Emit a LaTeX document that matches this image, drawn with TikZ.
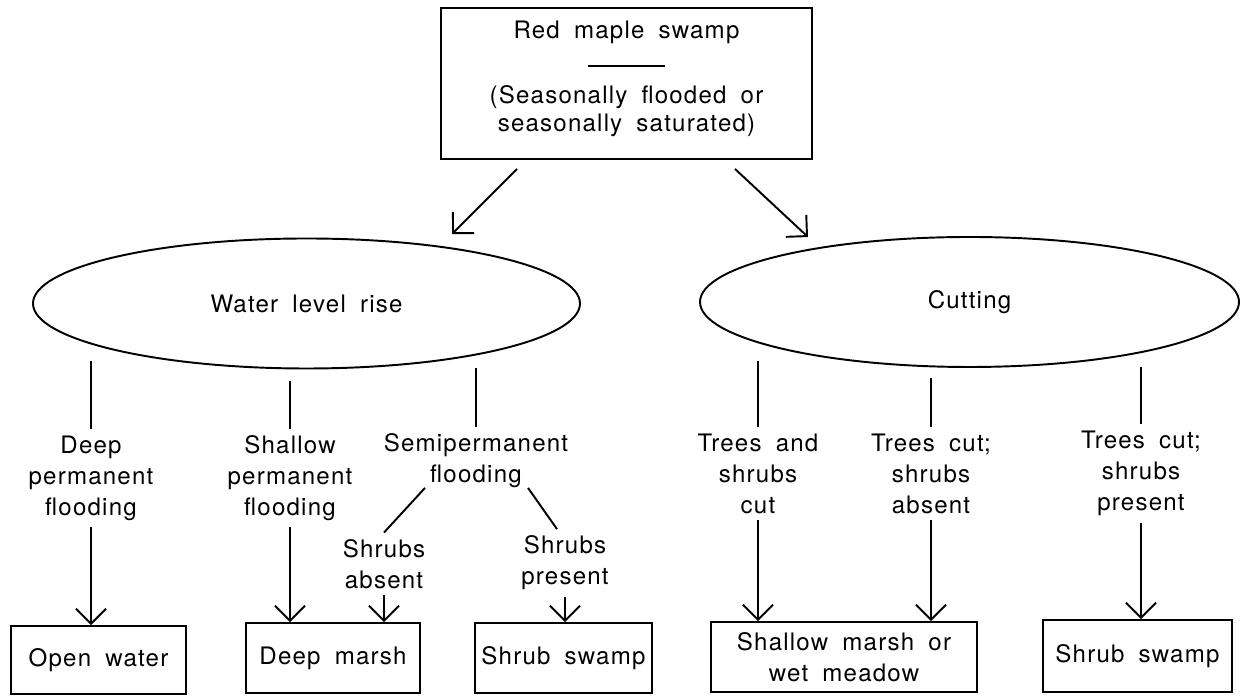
\documentclass[tikz,border=0pt]{standalone}
\usepackage{fontspec}
\setmainfont{TeX Gyre Heros}[LetterSpace=5,WordSpace=1.8]
\usetikzlibrary{shapes.geometric, arrows.meta, calc}

\begin{document}
\begin{tikzpicture}[font=\fontsize{13.7}{17.6}\selectfont, line width=1.1pt,
	box/.style={draw, align=center, inner sep=0pt},
	oval/.style={draw, ellipse, inner sep=0pt},
	lbl/.style={align=center},
	arr/.style={-{Straight Barb[length=0.3cm,width=0.6cm]}}]
			\useasboundingbox (0,0) rectangle (24.86,13.92);
			% starting wetland
			\node[box, minimum width=7.42cm, minimum height=3.02cm, font=\fontsize{13.7}{15.6}\selectfont] (swamp) at (12.53,12.25) {Red maple swamp\\[0.03cm]\rule{1.54cm}{1.1pt}\\[0.19cm](Seasonally flooded or\\seasonally saturated)\rule[-0.3cm]{0pt}{0pt}};
			% disturbances
			\node[oval, minimum width=10.94cm, minimum height=2.6cm] (water) at (6.13,7.85) {Water level rise};
			\node[oval, minimum width=10.78cm, minimum height=2.6cm] (cut) at (19.39,7.88) {Cutting};
			\draw[arr] ([shift={(-2.19,-0.18)}]swamp.south) -- ([shift={(2.91,0.07)}]water.north);
			\draw[arr] ([shift={(2.17,-0.18)}]swamp.south) -- ([shift={(-3.23,-0.02)}]cut.north);
			% conditions
			\node[lbl] (deep) at (1.82,4.36) {Deep\\permanent\\flooding};
			\node[lbl] (shallow) at (5.80,4.36) {Shallow\\permanent\\flooding};
			\node[lbl] (semi) at (9.52,4.70) {Semipermanent\\flooding};
			\node[lbl] (absent) at (7.68,2.64) {Shrubs\\absent};
			\node[lbl] (present) at (11.30,2.66) {Shrubs\\present};
			\node[lbl] (trees) at (15.16,4.45) {Trees and\\shrubs\\cut};
			\node[lbl] (treesabs) at (18.62,4.45) {Trees cut;\\shrubs\\absent};
			\node[lbl] (treespres) at (22.82,4.45) {Trees cut;\\shrubs\\present};
			% resulting wetlands
			\node[box, minimum width=3.5cm, minimum height=1.36cm] (open) at (1.97,0.72) {Open water};
			\node[box, minimum width=3.48cm, minimum height=1.4cm] (deepm) at (6.66,0.76) {Deep marsh};
			\node[box, minimum width=3.54cm, minimum height=1.4cm] (shrubl) at (11.27,0.76) {Shrub swamp};
			\node[box, minimum width=5.32cm, minimum height=1.4cm] (meadow) at (16.88,0.78) {Shallow marsh or\\wet meadow};
			\node[box, minimum width=3.78cm, minimum height=1.44cm] (shrubr) at (22.75,0.80) {Shrub swamp};
			% lines below the ellipses
			\draw (deep.north) -- ($(deep.north |- water.south)+(0,0.17)$);
			\draw (shallow.north) -- ($(shallow.north |- water.south)+(0,-0.23)$);
			\draw (semi.north) -- ($(semi.north |- water.south)+(0,0.03)$);
			\draw (trees.north) -- ($(trees.north |- cut.south)+(0,0.14)$);
			\draw (treesabs.north) -- ($(treesabs.north |- cut.south)+(0,-0.2)$);
			\draw (treespres.north) -- ($(treespres.north |- cut.south)+(0,0.02)$);
			\draw ([shift={(-1.02,0.14)}]semi.south) -- (absent.north);
			\draw ([shift={(1.04,0.14)}]semi.south) -- ([xshift=-0.16cm]present.north);
			% arrows to the results
			\draw[arr] (deep.south) -- (deep.south |- open.north);
			\draw[arr] (shallow.south) -- (shallow.south |- deepm.north);
			\draw[arr] (absent.south) -- (absent.south |- deepm.north);
			\draw[arr] (present.south) -- (present.south |- shrubl.north);
			\draw[arr] (trees.south) -- (trees.south |- meadow.north);
			\draw[arr] (treesabs.south) -- (treesabs.south |- meadow.north);
			\draw[arr] (treespres.south) -- (treespres.south |- shrubr.north);
		\end{tikzpicture}
\end{document}
